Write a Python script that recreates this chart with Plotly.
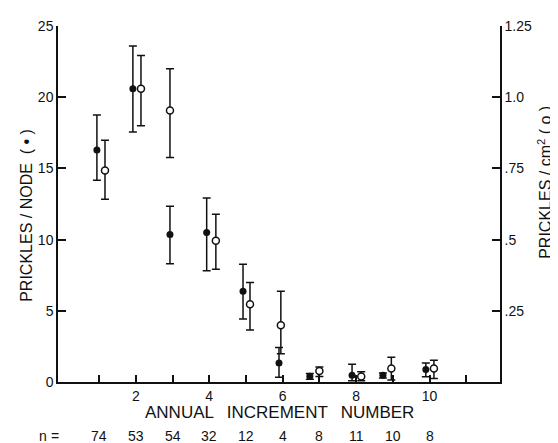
import plotly.graph_objects as go

# ---- data ----
increment = [1, 2, 3, 4, 5, 6, 7, 8, 9, 10]
n_values = ["74", "53", "54", "32", "12", "4", "8", "11", "10", "8"]

# filled circles: prickles / node (left axis)
x_node = [0.94, 1.92, 2.93, 3.93, 4.92, 5.90, 6.74, 7.89, 8.73, 9.90]
node_mean = [16.3, 20.6, 10.35, 10.5, 6.37, 1.33, 0.40, 0.48, 0.48, 0.87]
node_err_plus = [2.45, 3.0, 2.0, 2.42, 1.9, 1.1, 0.2, 0.76, 0.15, 0.46]
node_err_minus = [2.13, 3.05, 2.05, 2.68, 1.95, 1.0, 0.2, 0.4, 0.2, 0.5]

# open circles: prickles / cm2 (right axis)
x_area = [1.16, 2.14, 2.93, 4.18, 5.11, 5.95, 7.0, 8.14, 8.96, 10.12]
area_mean = [0.743, 1.03, 0.953, 0.496, 0.273, 0.199, 0.039, 0.019, 0.047, 0.047]
area_err_plus = [0.106, 0.116, 0.147, 0.093, 0.076, 0.12, 0.014, 0.017, 0.04, 0.029]
area_err_minus = [0.101, 0.13, 0.165, 0.10, 0.09, 0.10, 0.02, 0.015, 0.04, 0.035]

x_tickvals = [1, 2, 3, 4, 5, 6, 7, 8, 9, 10, 11]
x_ticktext = ["", "2", "", "4", "", "6", "", "8", "", "10", ""]
y_tickvals = [0, 5, 10, 15, 20, 25]
y_ticktext = ["0", "5", "10", "15", "20", "25"]
y2_tickvals = [0.25, 0.5, 0.75, 1.0, 1.25]
y2_ticktext = [".25", ".5", ".75", "1.0", "1.25"]

x_title = "ANNUAL\u00a0\u00a0\u2009INCREMENT\u00a0\u00a0\u2009NUMBER"
y_title = "PRICKLES / NODE\u00a0\u00a0(\u00a0<b>•</b>\u00a0)"
y2_title = "PRICKLES / cm<sup>2</sup>\u00a0(\u00a0o\u00a0)"

FONT = "Liberation Sans, Arial, Helvetica, sans-serif"
BLACK = "#111111"

fig = go.Figure()

fig.add_trace(go.Scatter(
    x=x_node, y=node_mean, mode="markers", yaxis="y",
    marker=dict(size=7, color=BLACK, line=dict(width=0)),
    error_y=dict(type="data", symmetric=False, array=node_err_plus,
                 arrayminus=node_err_minus, color=BLACK, thickness=1.5, width=4),
    showlegend=False, cliponaxis=False,
))
fig.add_trace(go.Scatter(
    x=x_area, y=area_mean, mode="markers", yaxis="y2",
    marker=dict(size=7, color="white", line=dict(width=1.5, color=BLACK)),
    error_y=dict(type="data", symmetric=False, array=area_err_plus,
                 arrayminus=area_err_minus, color=BLACK, thickness=1.5, width=4),
    showlegend=False, cliponaxis=False,
))

txt = dict(size=14, color=BLACK, family=FONT)
annotations = []
for xi, nv in zip(increment, n_values):
    annotations.append(dict(x=xi, y=-0.151, xref="x", yref="paper", text=nv,
                            xanchor="center", yanchor="middle",
                            showarrow=False, font=txt))
annotations.append(dict(x=-0.034, y=-0.151, xref="paper", yref="paper", text="n",
                        xanchor="center", yanchor="middle", showarrow=False, font=txt))
annotations.append(dict(x=-0.007, y=-0.151, xref="paper", yref="paper", text="=",
                        xanchor="center", yanchor="middle", showarrow=False, font=txt))
annotations.append(dict(x=0.501, y=-0.085, xref="paper", yref="paper",
                        text=x_title, xanchor="center", yanchor="middle", showarrow=False,
                        font=dict(size=17, color=BLACK, family=FONT)))
annotations.append(dict(x=-0.070, y=0.467, xref="paper", yref="paper",
                        text=y_title, textangle=-90, xanchor="center", yanchor="middle",
                        showarrow=False, font=dict(size=16, color=BLACK, family=FONT)))
annotations.append(dict(x=1.100, y=0.56, xref="paper", yref="paper",
                        text=y2_title, textangle=-90, xanchor="center", yanchor="middle",
                        showarrow=False, font=dict(size=16, color=BLACK, family=FONT)))

axis_common = dict(ticks="inside", tickwidth=1.5, tickcolor=BLACK,
                   showline=True, linewidth=1.5, linecolor=BLACK,
                   showgrid=False, zeroline=False, tickfont=dict(size=14))

# the page body adds an 8 px margin, so the figure is 8 px smaller each way
fig.update_layout(
    width=550, height=435,
    margin=dict(l=50, r=58, t=10, b=61),
    paper_bgcolor="white", plot_bgcolor="white",
    font=dict(family=FONT, size=14, color=BLACK),
    xaxis=dict(range=[-0.12, 11.92], tickvals=x_tickvals, ticktext=x_ticktext,
               ticklen=7, mirror=False, **axis_common),
    yaxis=dict(range=[0, 25], tickvals=y_tickvals, ticktext=y_ticktext,
               ticklen=8, **axis_common),
    yaxis2=dict(range=[0, 1.25], tickvals=y2_tickvals, ticktext=y2_ticktext,
                overlaying="y", side="right", ticklen=8, **axis_common),
    annotations=annotations,
)

fig.write_html("out.html")
